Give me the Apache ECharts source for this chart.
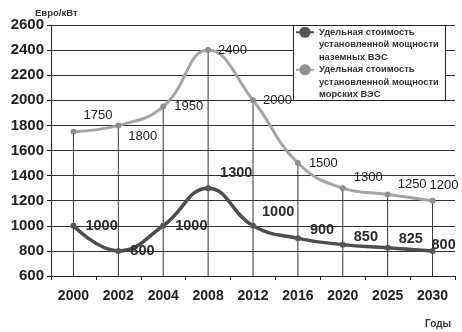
<!DOCTYPE html>
<html><head><meta charset="utf-8">
<script src="https://cdn.jsdelivr.net/npm/echarts@6/dist/echarts.min.js"></script>
<style>html,body{margin:0;padding:0;background:#fff}#c{width:462px;height:332px}</style>
</head><body><div id="c"></div>
<script>
const years = ['2000','2002','2004','2008','2012','2016','2020','2025','2030'];
const onshore = [1000, 800, 1000, 1300, 1000, 900, 850, 825, 800];
const offshore = [1750, 1800, 1950, 2400, 2000, 1500, 1300, 1250, 1200];
const nameOnshore = 'Удельная стоимость\nустановленной мощности\nназемных ВЭС';
const nameOffshore = 'Удельная стоимость\nустановленной мощности\nморских ВЭС';
const yUnit = 'Евро/кВт';
const xUnit = 'Годы';

// label offsets (layout only)
const onOff = [[4,0],[4,0],[4,0],[4,-15],[1,-14],[4,-8],[3,-8],[3,-9],[-9,-6]];
const offOff = [[2,-16],[2,11],[3,0],[2,0],[2,0],[3,0],[3,-11],[2,-10],[-11,-15]];

const chart = echarts.init(document.getElementById('c'));
const txt = '#222';
chart.setOption({
  animation: false,
  title: [
    {text: yUnit, left: 35, top: 8, padding: 0, textStyle: {fontSize: 9.5, fontWeight: 'bold', color: '#333', fontFamily: 'Liberation Sans'}},
    {text: xUnit, left: 425, top: 319, padding: 0, textStyle: {fontSize: 10, fontWeight: 'bold', color: '#333', fontFamily: 'Liberation Sans'}}
  ],
  grid: {left: 51, right: 7, top: 25, bottom: 56, containLabel: false},
  graphic: [{type: 'rect', z: 3, shape: {x: 293.5, y: 25.5, width: 152, height: 75}, style: {fill: '#fff', stroke: '#222', lineWidth: 1}}],
  legend: {
    z: 10, orient: 'vertical', left: 295, top: 1, padding: 0, itemGap: -25,
    itemWidth: 18, itemHeight: 14,
    data: [nameOnshore, nameOffshore],
    formatter: name => '\n\n' + name,
    textStyle: {fontSize: 9.3, fontWeight: 'bold', color: '#333', lineHeight: 12.5, fontFamily: 'Liberation Sans'}
  },
  xAxis: {
    type: 'category', data: years, boundaryGap: true,
    axisLine: {lineStyle: {color: '#222', width: 1}},
    axisTick: {show: true, length: 4, lineStyle: {color: '#222'}},
    axisLabel: {fontSize: 14, fontWeight: 'bold', color: txt, margin: 13, fontFamily: 'Liberation Sans'},
    splitLine: {show: false}
  },
  yAxis: {
    type: 'value', min: 600, max: 2600, interval: 200,
    axisLine: {show: true, lineStyle: {color: '#222', width: 1}},
    axisTick: {show: true, length: 4, lineStyle: {color: '#222'}},
    axisLabel: {fontSize: 15, fontWeight: 'bold', color: txt, margin: 7, fontFamily: 'Liberation Sans', formatter: v => String(v)},
    splitLine: {show: true, lineStyle: {color: '#333', width: 1}}
  },
  series: [
    {
      name: 'drop', type: 'bar', data: offshore, barWidth: 1, silent: true, z: 1,
      itemStyle: {color: '#333'}
    },
    {
      name: nameOffshore, type: 'line', data: offshore.map((v, i) => ({value: v, label: {offset: offOff[i]}})),
      smooth: 0.45, symbol: 'circle', symbolSize: 6, z: 3,
      lineStyle: {color: '#a5a5a5', width: 3},
      itemStyle: {color: '#8f8f8f'},
      label: {show: true, position: 'right', distance: 5, fontSize: 13, color: '#222', fontFamily: 'Liberation Sans'}
    },
    {
      name: nameOnshore, type: 'line', data: onshore.map((v, i) => ({value: v, label: {offset: onOff[i]}})),
      smooth: 0.45, symbol: 'circle', symbolSize: 6, z: 4,
      lineStyle: {color: '#4d4d4d', width: 3.5},
      itemStyle: {color: '#555'},
      label: {show: true, position: 'right', distance: 5, fontSize: 14.5, fontWeight: 'bold', color: '#2a2a2a', fontFamily: 'Liberation Sans'}
    }
  ]
});
</script></body></html>
